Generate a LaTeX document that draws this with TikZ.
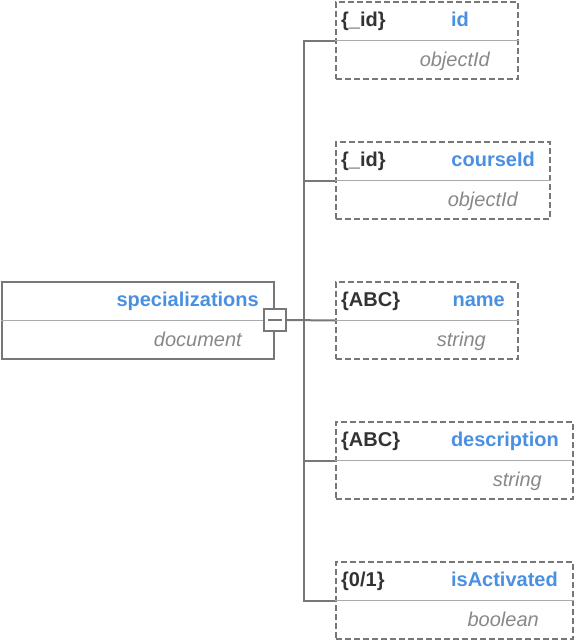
\documentclass[tikz,border=0pt]{standalone}
\usepackage{fontspec}
\setmainfont{Liberation Sans}
\definecolor{nameblue}{HTML}{4A90E2}
\definecolor{darktxt}{HTML}{333333}
\definecolor{graytxt}{HTML}{888888}
\definecolor{boxline}{HTML}{777777}
\definecolor{divline}{HTML}{AAAAAA}
\begin{document}
\begin{tikzpicture}[x=1pt,y=-1pt,
  rootbox/.style={draw=boxline, line width=2pt, minimum height=77pt, anchor=north west, inner sep=0pt},
  childbox/.style={draw=boxline, line width=2pt, dash pattern=on 6pt off 3pt, minimum height=77pt, anchor=north west, inner sep=0pt},
  divider/.style={draw=divline, line width=1.8pt},
  conn/.style={draw=boxline, line width=2pt},
  nametxt/.style={font=\fontsize{20}{22}\selectfont\bfseries, text=nameblue, anchor=base east, inner sep=0pt},
  typetxt/.style={font=\fontsize{20}{22}\selectfont\itshape, text=graytxt, anchor=base east, inner sep=0pt},
  kindtxt/.style={font=\fontsize{20}{22}\selectfont\bfseries, text=darktxt, anchor=base west, inner sep=0pt},
  collapsebox/.style={draw=boxline, fill=white, line width=2pt, minimum width=22pt, minimum height=22pt, inner sep=0pt}
]
\useasboundingbox (0,0) rectangle (574,640);

% root
\node[rootbox, minimum width=272pt] (root) at (1,281) {};
\draw[divider] (root.west) -- (root.east);
\node[nametxt] (rootname) at (259,306) {specializations};
\node[typetxt] (roottype) at (242,346) {document};

% children
\node[childbox, minimum width=182pt] (c1) at (335,1) {};
\node[childbox, minimum width=214pt] (c2) at (335,141) {};
\node[childbox, minimum width=182pt] (c3) at (335,281) {};
\node[childbox, minimum width=237pt] (c4) at (335,421) {};
\node[childbox, minimum width=237pt] (c5) at (335,561) {};
\foreach \c in {c1,c2,c3,c4,c5} { \draw[divider] (\c.west) -- (\c.east); }

% connectors
\coordinate (bus) at (304,320);
\node[collapsebox] (collapse) at (275,320) {};
\draw[conn] (collapse.east) -- (c3.west);
\draw[conn] (c1.west) -| (bus);
\draw[conn] (bus) |- (c5.west);
\draw[conn] (bus) |- (c2.west);
\draw[conn] (bus) |- (c4.west);
\draw[conn] ([xshift=-7pt]collapse.center) -- ([xshift=7pt]collapse.center);

% texts c1
\node[kindtxt] (k1) at (341,26) {\{\_id\}};
\node[nametxt] (n1) at (469,26) {id};
\node[typetxt] (t1) at (490,66) {objectId};
% c2
\node[kindtxt] (k2) at (341,166) {\{\_id\}};
\node[nametxt] (n2) at (535,166) {courseId};
\node[typetxt] (t2) at (518,206) {objectId};
% c3
\node[kindtxt] (k3) at (341,306) {\{ABC\}};
\node[nametxt] (n3) at (505,306) {name};
\node[typetxt] (t3) at (486,346) {string};
% c4
\node[kindtxt] (k4) at (341,446) {\{ABC\}};
\node[nametxt] (n4) at (559,446) {description};
\node[typetxt] (t4) at (542,486) {string};
% c5
\node[kindtxt] (k5) at (341,586) {\{0/1\}};
\node[nametxt] (n5) at (558,586) {isActivated};
\node[typetxt] (t5) at (539,626) {boolean};
\end{tikzpicture}
\end{document}
